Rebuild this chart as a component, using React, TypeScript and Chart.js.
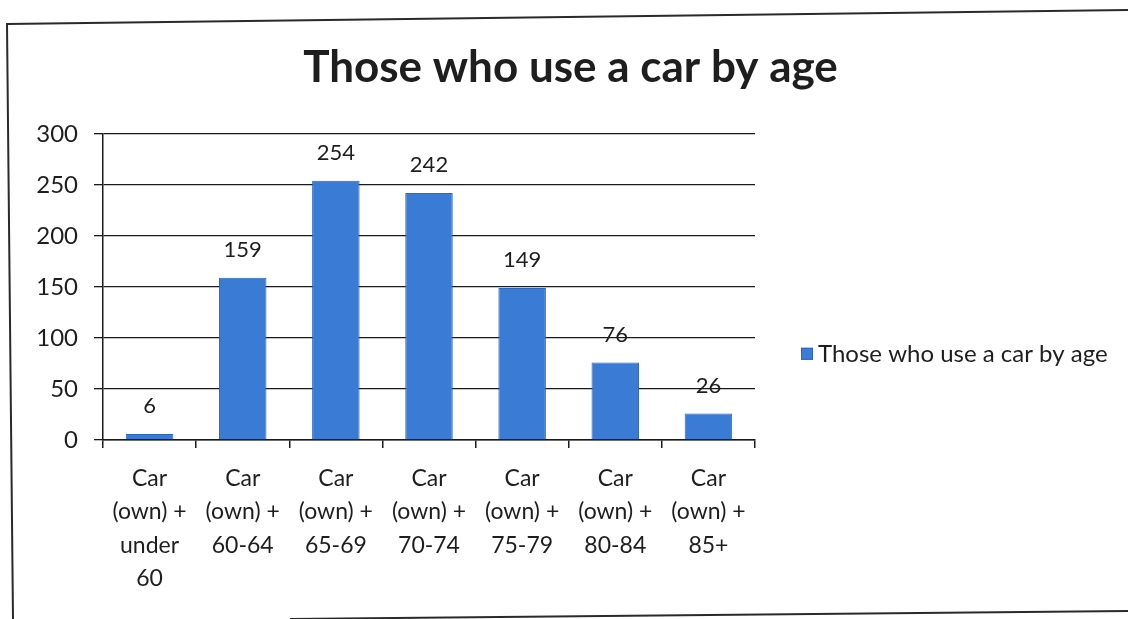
import React, { useEffect, useRef } from "react";
import { Chart, registerables } from "chart.js";

Chart.register(...registerables);

const titleText = "Those who use a car by age";
const seriesLabel = "Those who use a car by age";
const categories: string[][] = [
  ["Car", "(own) +", "under", "60"],
  ["Car", "(own) +", "60-64"],
  ["Car", "(own) +", "65-69"],
  ["Car", "(own) +", "70-74"],
  ["Car", "(own) +", "75-79"],
  ["Car", "(own) +", "80-84"],
  ["Car", "(own) +", "85+"],
];
const values: number[] = [6, 159, 254, 242, 149, 76, 26];
const yTicks: number[] = [0, 50, 100, 150, 200, 250, 300];

const FONT = "Lato, 'Open Sans', sans-serif";
const BAR = "#3a7bd5";
const BAR_EDGE = "#2c66bd";
const TEXT = "#1e1e1e";

const framePlugin = {
  id: "frame",
  afterDraw(chart: any) {
    const ctx = chart.ctx;
    ctx.save();
    ctx.strokeStyle = "#2a2a2a";
    ctx.lineWidth = 2;
    ctx.beginPath();
    ctx.moveTo(1128, 10);
    ctx.lineTo(7, 24);
    ctx.lineTo(13, 619);
    ctx.stroke();
    ctx.beginPath();
    ctx.moveTo(290, 619);
    ctx.lineTo(1128, 611);
    ctx.stroke();
    ctx.restore();
  },
};

const labelsPlugin = {
  id: "barLabels",
  afterDatasetsDraw(chart: any) {
    const ctx = chart.ctx;
    const meta = chart.getDatasetMeta(0);
    ctx.save();
    ctx.font = `22px ${FONT}`;
    ctx.fillStyle = TEXT;
    ctx.textAlign = "center";
    ctx.textBaseline = "middle";
    meta.data.forEach((el: any, i: number) => {
      ctx.fillText(String(values[i]), el.x, el.y - 28);
    });
    ctx.restore();
  },
};

const legendPlugin = {
  id: "customLegend",
  afterDraw(chart: any) {
    const ctx = chart.ctx;
    const area = chart.chartArea;
    const x = area.right + 46;
    const y = area.top + 220;
    ctx.save();
    ctx.fillStyle = BAR;
    ctx.strokeStyle = BAR_EDGE;
    ctx.fillRect(x, y - 6, 12, 12);
    ctx.strokeRect(x + 0.5, y - 5.5, 11, 11);
    ctx.font = `24px ${FONT}`;
    ctx.fillStyle = TEXT;
    ctx.textAlign = "left";
    ctx.textBaseline = "middle";
    ctx.fillText(seriesLabel, x + 17, y);
    ctx.restore();
  },
};

export default function App() {
  const ref = useRef<HTMLCanvasElement | null>(null);

  useEffect(() => {
    document.body.style.margin = "0";
    document.body.style.background = "#ffffff";
    if (!ref.current) return;
    const chart = new Chart(ref.current, {
      type: "bar",
      data: {
        labels: categories,
        datasets: [
          {
            label: seriesLabel,
            data: values,
            backgroundColor: BAR,
            borderColor: BAR_EDGE,
            borderWidth: 1,
            categoryPercentage: 1,
            barPercentage: 0.51,
          },
        ],
      },
      options: {
        responsive: false,
        animation: false,
        layout: { padding: { left: 13, right: 0, top: 0, bottom: 20 } },
        plugins: {
          legend: { display: false },
          tooltip: { enabled: false },
          title: {
            display: true,
            text: titleText,
            color: TEXT,
            font: { family: FONT, size: 44, weight: "bold" },
            padding: { top: 41, bottom: 40 },
          },
        },
        scales: {
          x: {
            grid: {
              offset: true,
              drawOnChartArea: false,
              drawTicks: true,
              tickLength: 8,
              color: "#1a1a1a",
              lineWidth: 1.5,
            },
            border: { display: true, color: "#1a1a1a", width: 1.5 },
            ticks: {
              color: TEXT,
              font: { family: FONT, size: 23, lineHeight: 1.45 },
              padding: 14,
              maxRotation: 0,
              autoSkip: false,
            },
            afterFit: (s: any) => {
              s.height = 159;
            },
          },
          y: {
            min: 0,
            max: 300,
            afterBuildTicks: (s: any) => {
              s.ticks = yTicks.map((v) => ({ value: v }));
            },
            grid: {
              drawTicks: true,
              tickLength: 9,
              color: "#1a1a1a",
              lineWidth: 1.3,
            },
            border: { display: true, color: "#1a1a1a", width: 1.5 },
            ticks: {
              color: TEXT,
              font: { family: FONT, size: 24 },
              padding: 16,
            },
            afterFit: (s: any) => {
              s.width = 90;
            },
          },
          yPad: {
            type: "linear",
            position: "right",
            display: true,
            grid: { display: false, drawTicks: false },
            border: { display: false },
            ticks: { display: false },
            afterFit: (s: any) => {
              s.width = 373;
            },
          },
        },
      },
      plugins: [labelsPlugin, legendPlugin, framePlugin],
    } as any);
    return () => chart.destroy();
  }, []);

  return (
    <div style={{ width: 1128, height: 619, position: "relative", background: "#fff" }}>
      <canvas ref={ref} width={1128} height={619} style={{ display: "block" }} />
    </div>
  );
}
